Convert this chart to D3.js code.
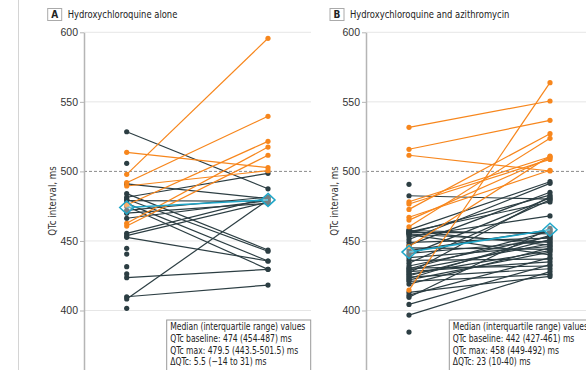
<!DOCTYPE html>
<html>
<head>
<meta charset="utf-8">
<script src="https://cdn.jsdelivr.net/npm/d3@7"></script>
<style>
  body { margin: 0; background: #fff; }
  svg { display: block; font-family: "Liberation Sans Narrow", "DejaVu Sans Condensed", Roboto, sans-serif; }
</style>
</head>
<body>
<svg id="chart" width="586" height="370"></svg>
<script>
const yTicks = [400, 450, 500, 550, 600];
const threshold = 500;

const hcqBaseline = [513.7, 497.9, 491.9, 489.5, 475.8, 462.7, 460.7,
  528.5, 491, 484, 481.4, 480, 479, 477, 475, 472, 470, 466.3, 455.5, 453.8, 452.6, 423.6, 409.9, 408.3,
  505.8, 444.7, 440.6, 431.5, 426.3, 401.6];
const hcqMax = [502.7, 595.7, 539.6, 500.5, 521.6, 517.5, 511.6,
  487.5, 480.5, 443.5, 498.6, 442.6, 478.5, 435.6, 429.6, 481.5, 477, 479, 481, 478, 435.6, 429.6, 418.3, 479.5,
  null, null, null, null, null, null];
const hcqMedian = [474, 479.5];

const azBaseline = [531.7, 515.9, 511.6, 478.2, 476.6, 472.7, 467, 465, 460.2, 446, 414.7,
  482.5, 458, 457.5, 457, 456.5, 456, 455.5, 455, 454.5, 453, 451, 449, 447, 445, 443, 441, 440, 438,
  436, 434, 432, 430.5, 430, 429, 428, 427, 426, 425, 424, 423, 422, 421, 419, 413, 411, 409.5, 404.4, 396.7,
  490.7, 384.5];
const azMax = [550.6, 536.7, 500.3, 510.5, 508.6, 527.1, 500.8, 509.8, 523.8, 511, 563.8,
  480, 492.6, 455, 447, 478, 456, 483, 449, 440, 468, 491.4, 452, 485, 444, 458, 450, 481, 446,
  437, 479.5, 453, 432, 457, 448, 435, 482, 443, 451, 430, 454, 442, 426, 445, 424.5, 438, 459, 433, 428,
  null, null];
const azMedian = [442, 458];

const hcqLegend = ["Median (interquartile range) values", "QTc baseline: 474 (454-487) ms",
  "QTc max: 479.5 (443.5-501.5) ms", "\u0394QTc: 5.5 (\u221214 to 31) ms"];
const azLegend = ["Median (interquartile range) values", "QTc baseline: 442 (427-461) ms",
  "QTc max: 458 (449-492) ms", "\u0394QTc: 23 (10-40) ms"];

const orange = "#f7861c", dark = "#2c3e43", teal = "#1fa6c8";

const svg = d3.select("#chart");
const y = d3.scaleLinear().domain([355, 600]).range([373.1, 32.3]);

// left frame line
svg.append("line").attr("x1", 18.5).attr("x2", 18.5).attr("y1", 0).attr("y2", 370)
  .attr("stroke", "#d4d4d4").attr("stroke-width", 1);

const panels = [
  { letter: "A", title: "Hydroxychloroquine alone", axisX: 84, baseX: 126.7, maxX: 268, gridEnd: 311,
    boxX: 47.7, baseline: hcqBaseline, max: hcqMax, median: hcqMedian, legend: hcqLegend, legendX: 166.7 },
  { letter: "B", title: "Hydroxychloroquine and azithromycin", axisX: 366, baseX: 409, maxX: 550, gridEnd: 586,
    boxX: 330, baseline: azBaseline, max: azMax, median: azMedian, legend: azLegend, legendX: 449.3 }
];

panels.forEach(p => {
  const g = svg.append("g");
  const x = d3.scalePoint().domain(["baseline", "max"]).range([p.baseX, p.maxX]);

  // gridlines
  g.append("g").selectAll("line").data(yTicks.filter(t => t !== threshold)).enter().append("line")
    .attr("x1", p.axisX).attr("x2", p.gridEnd)
    .attr("y1", d => y(d)).attr("y2", d => y(d))
    .attr("stroke", "#e6e6e6").attr("stroke-width", 1);

  // 500 ms reference line
  g.append("line").attr("x1", p.axisX).attr("x2", p.gridEnd)
    .attr("y1", y(threshold)).attr("y2", y(threshold))
    .attr("stroke", "#8a8a8a").attr("stroke-width", 1).attr("stroke-dasharray", "3,2");

  // axis
  const ax = g.append("g").attr("transform", "translate(" + p.axisX + ",0)")
    .call(d3.axisLeft(y).tickValues(yTicks).tickSize(4).tickSizeOuter(0).tickPadding(2));
  ax.select(".domain").attr("stroke", "#b5b5b5").attr("stroke-width", 1.5);
  ax.selectAll(".tick line").attr("stroke", "#b5b5b5");
  ax.selectAll(".tick text").attr("fill", "#333").style("font-size", "10.5px")
    .style("font-family", "inherit");

  g.append("text")
    .attr("transform", "translate(" + (p.axisX - 28) + "," + 201 + ") rotate(-90) scale(0.92,1)")
    .attr("text-anchor", "middle").attr("fill", "#333").style("font-size", "10.5px")
    .text("QTc interval, ms");

  // panel label
  g.append("rect").attr("x", p.boxX).attr("y", 8.5).attr("width", 14).attr("height", 12)
    .attr("fill", "#fff").attr("stroke", "#aaa").attr("stroke-width", 1);
  g.append("text").attr("x", p.boxX + 7).attr("y", 18.3).attr("text-anchor", "middle")
    .attr("fill", "#222").style("font-size", "10px").style("font-weight", "bold").text(p.letter);
  g.append("text").attr("transform", "translate(" + (p.boxX + 20) + ",18) scale(0.85,1)")
    .attr("fill", "#222").style("font-size", "11px").text(p.title);

  const rows = p.baseline.map((b, i) => ({ b: b, m: p.max[i] }));
  const paired = rows.filter(r => r.m !== null);
  const colour = r => (r.m !== null && r.m >= threshold) ? orange : dark;
  const ordered = paired.filter(r => colour(r) === dark).concat(paired.filter(r => colour(r) === orange));

  g.append("g").selectAll("line").data(ordered).enter().append("line")
    .attr("x1", x("baseline")).attr("x2", x("max"))
    .attr("y1", d => y(d.b)).attr("y2", d => y(d.m))
    .attr("stroke", colour).attr("stroke-width", 1.2);

  const dots = [];
  rows.forEach(r => {
    dots.push({ k: "baseline", v: r.b, c: colour(r) });
    if (r.m !== null) dots.push({ k: "max", v: r.m, c: colour(r) });
  });
  dots.sort((a, b) => (a.c === orange) - (b.c === orange));
  g.append("g").selectAll("circle").data(dots).enter().append("circle")
    .attr("cx", d => x(d.k)).attr("cy", d => y(d.v)).attr("r", 2.6).attr("fill", d => d.c);

  // medians
  const med = [{ k: "baseline", v: p.median[0] }, { k: "max", v: p.median[1] }];
  g.append("line").attr("x1", x("baseline")).attr("x2", x("max"))
    .attr("y1", y(p.median[0])).attr("y2", y(p.median[1]))
    .attr("stroke", teal).attr("stroke-width", 1.6);
  g.append("g").selectAll("path").data(med).enter().append("path")
    .attr("d", "M0,-6.5L7,0L0,6.5L-7,0Z")
    .attr("transform", d => "translate(" + x(d.k) + "," + y(d.v) + ")")
    .attr("fill", "rgba(255,255,255,0.35)").attr("stroke", teal).attr("stroke-width", 1.5);

  // legend box
  const lg = g.append("g").attr("transform", "translate(" + p.legendX + ",320)");
  lg.append("rect").attr("x", 0).attr("y", 0).attr("width", 144).attr("height", 56)
    .attr("fill", "#fff").attr("stroke", "#999").attr("stroke-width", 1);
  lg.append("g").attr("transform", "translate(3.5,0) scale(0.85,1)")
    .selectAll("text").data(p.legend).enter().append("text")
    .attr("x", 0).attr("y", (d, i) => 10.5 + i * 11.6)
    .attr("fill", "#222").style("font-size", "10px").text(d => d);
});
</script>
</body>
</html>
